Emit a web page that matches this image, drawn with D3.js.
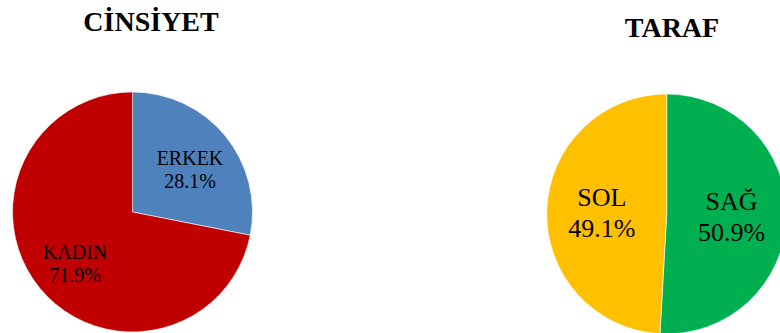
<!DOCTYPE html>
<html>
<head>
<meta charset="utf-8">
<script src="https://cdn.jsdelivr.net/npm/d3@7"></script>
<style>
  html, body { margin: 0; padding: 0; background: #fff; overflow: hidden; }
  svg { display: block; }
  text { font-family: "Liberation Serif", "Times New Roman", Times, serif; }
  .pie-title { font-weight: bold; fill: #000; }
  .slice-label { fill: #000; }
</style>
</head>
<body>
<svg id="chart" width="780" height="333"></svg>
<script>
// gender pie
const genderCats = ['ERKEK', 'KADIN'];
const genderVals = [28.1, 71.9];
const genderColors = ['#4F81BD', '#C00000'];

// side pie
const sideCats = ['SAĞ', 'SOL'];
const sideVals = [50.9, 49.1];
const sideColors = ['#00B050', '#FFC000'];

const svg = d3.select('#chart');

function PiePlot() {
    let cx = 0, cy = 0, radius = 120;
    let title = '', titleX = 0, titleY = 0, titleSize = 28;
    let labelSize = 20, labelK = 0.6, lineGap = 23, labelShift = -5;

    function chart(selection, cats, vals, colors) {
        let data = cats.map((c, i) => ({cat: c, val: vals[i], color: colors[i]}));
        let pie = d3.pie().value(d => d.val).sort(null);
        let arc = d3.arc().innerRadius(0).outerRadius(radius);
        // centroid of this arc sits at labelK * radius from the center
        let labelArc = d3.arc().innerRadius(0).outerRadius(radius * labelK * 2);

        let gMain = selection.append('g')
            .attr('transform', `translate(${cx},${cy})`);

        let arcs = pie(data);

        gMain.selectAll('path')
            .data(arcs)
            .enter()
            .append('path')
            .attr('d', arc)
            .attr('fill', d => d.data.color)
            .attr('stroke', '#fff')
            .attr('stroke-width', 0.6);

        let labels = gMain.selectAll('text.slice-label')
            .data(arcs)
            .enter()
            .append('text')
            .classed('slice-label', true)
            .attr('font-family', '"Liberation Serif", "Times New Roman", serif')
            .attr('text-anchor', 'middle')
            .attr('font-size', labelSize)
            .attr('transform', d => {
                let c = labelArc.centroid(d);
                return `translate(${c[0]},${c[1] + labelShift})`;
            });

        labels.append('tspan')
            .attr('x', 0).attr('y', 0)
            .text(d => d.data.cat);
        labels.append('tspan')
            .attr('x', 0).attr('y', lineGap)
            .text(d => d3.format('.1f')(d.data.val) + '%');

        selection.append('text')
            .classed('pie-title', true)
            .attr('font-family', '"Liberation Serif", "Times New Roman", serif')
            .attr('x', titleX)
            .attr('y', titleY)
            .attr('text-anchor', 'middle')
            .attr('font-size', titleSize)
            .text(title);
    }

    chart.center = function(x, y) { cx = x; cy = y; return chart; };
    chart.radius = function(_) { radius = _; return chart; };
    chart.title = function(t, x, y) { title = t; titleX = x; titleY = y; return chart; };
    chart.labelSize = function(_) { labelSize = _; return chart; };
    chart.labelK = function(_) { labelK = _; return chart; };
    chart.lineGap = function(_) { lineGap = _; return chart; };
    chart.labelShift = function(_) { labelShift = _; return chart; };

    return chart;
}

PiePlot()
    .center(132.5, 212)
    .radius(120)
    .title('CİNSİYET', 151, 31)
    .labelSize(20)
    .labelK(0.62)
    .lineGap(23)
    .labelShift(0)(svg, genderCats, genderVals, genderColors);

PiePlot()
    .center(666.7, 214)
    .radius(120)
    .title('TARAF', 672, 37)
    .labelSize(26)
    .labelK(0.54)
    .lineGap(31)
    .labelShift(-6)(svg, sideCats, sideVals, sideColors);
</script>
</body>
</html>
